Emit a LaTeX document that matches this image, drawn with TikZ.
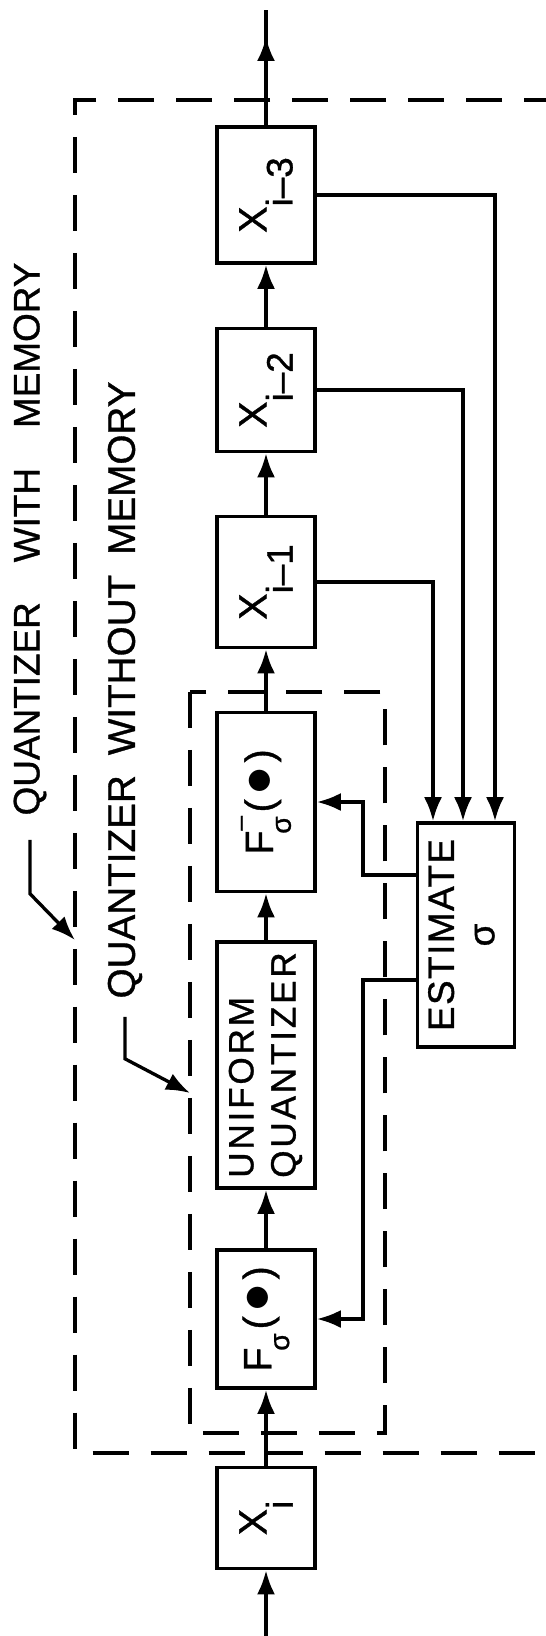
\documentclass[tikz,border=0pt]{standalone}
\usepackage{fontspec}
\setmainfont{Liberation Sans}[FakeBold=0.9]
\usetikzlibrary{arrows.meta, calc}

\tikzset{
  blk/.style={draw, line width=2.1pt, minimum width=1.96cm, inner sep=0pt},
  arr/.style={-{Latex[length=4.8mm,width=3.6mm]}},
  wire/.style={line width=1.9pt},
  frame/.style={line width=2pt, dash pattern=on 0.72cm off 0.44cm},
  lbl/.style={inner sep=0pt, font=\fontsize{21}{24}\selectfont},
}
\newcommand{\rot}[1]{\rotatebox{90}{#1}}
\newcommand{\bigfont}{\fontsize{22.5}{26}\selectfont}
\newcommand{\xlab}[2]{{\bigfont #1\raisebox{-0.66em}{\fontsize{21}{20}\selectfont #2}}}
\newcommand{\paren}{(\kern0.12em\scalebox{1.5}{$\bullet$}\kern0.12em)}
\newcommand{\sig}{\raisebox{-0.45em}{\fontsize{16}{15}\selectfont σ}}

\begin{document}
\begin{tikzpicture}[x=0.02cm, y=-0.02cm]
  \useasboundingbox (0,0) rectangle (546,1636);
  \clip (0,0) rectangle (546,1636);

  % boxes, from the input (bottom) to the output (top)
  \node[blk, minimum height=2.02cm] (xi) at (266,1518) {\rot{\xlab{X}{i}}};
  \node[blk, minimum height=2.76cm] (fsig) at (266,1319)
    {\rot{\bigfont F\kern-0.08em\sig\kern0.1em\paren}};
  \node[blk, minimum height=4.92cm] (uq) at (266,1065)
    {\rot{\fontsize{20}{24}\selectfont\addfontfeatures{LetterSpace=8}%
      \begin{tabular}{@{}l@{}}UNIFORM\\QUANTIZER\end{tabular}}};
  \node[blk, minimum height=3.58cm] (finv) at (266,802)
    {\rot{\bigfont F\rlap{\raisebox{0.62em}{\fontsize{15}{15}\selectfont --}}\kern-0.08em\sig\kern0.1em\paren}};
  \node[blk, minimum height=2.62cm] (xi1) at (266,582) {\rot{\xlab{X}{i--1}}};
  \node[blk, minimum height=2.46cm] (xi2) at (266,390) {\rot{\xlab{X}{i--2}}};
  \node[blk, minimum height=2.72cm] (xi3) at (266,195) {\rot{\xlab{X}{i--3}}};
  \node[blk, minimum width=1.94cm, minimum height=4.48cm] (est) at (466,935)
    {\rot{\fontsize{21}{23}\selectfont\addfontfeatures{LetterSpace=4}%
      \begin{tabular}{@{}c@{}}ESTIMATE\\σ\end{tabular}}};

  \coordinate (in) at (266,1636);
  \coordinate (outtip) at (266,37);
  \coordinate (out) at (266,10);

  % signal path
  \draw[wire, arr] (in) -- (xi.south);
  \draw[wire, arr] (xi.north) -- (fsig.south);
  \draw[wire, arr] (fsig.north) -- (uq.south);
  \draw[wire, arr] (uq.north) -- (finv.south);
  \draw[wire, arr] (finv.north) -- (xi1.south);
  \draw[wire, arr] (xi1.north) -- (xi2.south);
  \draw[wire, arr] (xi2.north) -- (xi3.south);
  \draw[wire] (xi3.north) -- (out);
  \draw[wire, arr] (xi3.north) -- (outtip);

  % past samples into the estimator
  \draw[wire, arr] (xi1.east) -| ($(est.north)+(-33,0)$);
  \draw[wire, arr] (xi2.east) -| ($(est.north)+(-3,0)$);
  \draw[wire, arr] (xi3.east) -| ($(est.north)+(29,0)$);

  % sigma back to both mappings
  \draw[wire, arr] ($(est.west)+(0,-60)$) -| ($(finv.east)+(46,0)$) -- (finv.east);
  \draw[wire, arr] ($(est.west)+(0,45)$) -| ($(fsig.east)+(46,0)$) -- (fsig.east);

  % dashed outlines
  \draw[frame] (560,100) -- (75,100) -- (75,1453) -- (560,1453);
  \draw[frame] (190,692) rectangle (385,1433);

  % labels
  \node[lbl] (memlbl) at (30,539) {\rot{QUANTIZER\hspace{0.8cm}WITH\hspace{0.8cm}MEMORY}};
  \node[lbl, font=\fontsize{22}{24}\selectfont] (nomemlbl) at (125,690)
    {\rot{QUANTIZER\hspace{0.4cm}WITHOUT\hspace{0.4cm}MEMORY}};
  \coordinate (memtip) at (75,940);
  \coordinate (nomemtip) at (190,1093);
  \draw[wire, arr] ([yshift=-0.48cm]memlbl.south) -- ++(0,54) -- (memtip);
  \draw[wire, arr] ([yshift=-0.36cm]nomemlbl.south) -- ++(0,42) -- (nomemtip);
\end{tikzpicture}
\end{document}
